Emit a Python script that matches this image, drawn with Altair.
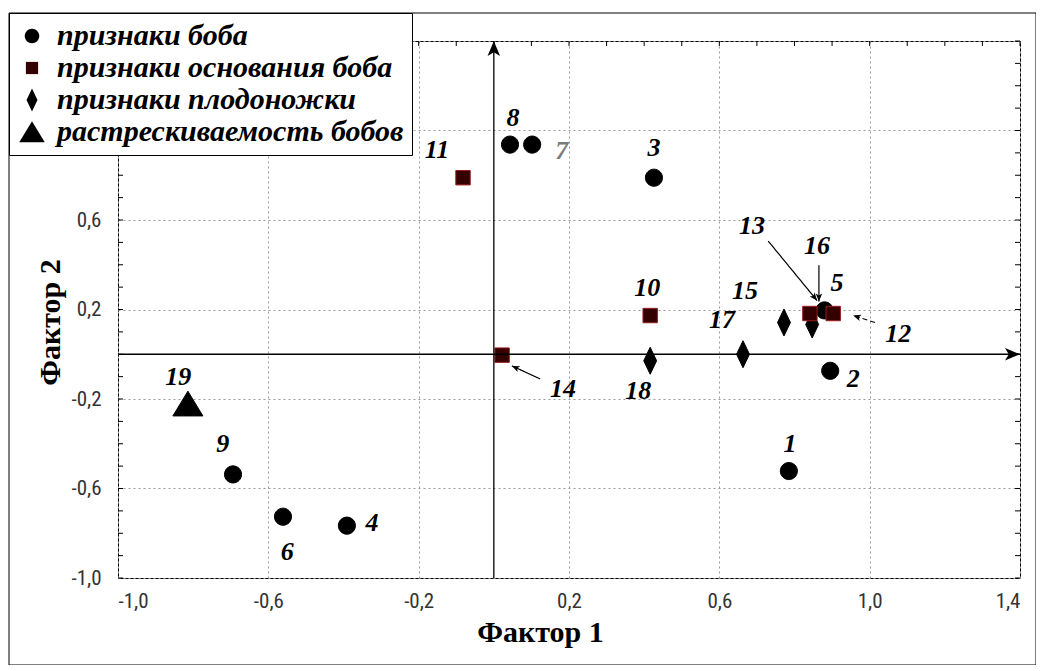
import math
import altair as alt
import pandas as pd

# ---------------- data ----------------
GROUPS = ["признаки боба", "признаки основания боба", "признаки плодоножки", "растрескиваемость бобов"]

pt_id = [1, 2, 3, 4, 5, 6, 7, 8, 9, 10, 11, 12, 13, 14, 15, 16, 17, 18, 19]
pt_x = [0.785, 0.895, 0.426, -0.391, 0.880, -0.561, 0.102, 0.043, -0.694,
        0.416, -0.082, 0.903, 0.841, 0.022,
        0.772, 0.847, 0.663, 0.416,
        -0.814]
pt_y = [-0.522, -0.074, 0.789, -0.766, 0.196, -0.726, 0.937, 0.937, -0.537,
        0.173, 0.789, 0.182, 0.182, -0.004,
        0.142, 0.133, 0.000, -0.029,
        -0.222]
pt_group = [0] * 9 + [1] * 5 + [2] * 4 + [3]

lab_x = [0.788, 0.956, 0.426, -0.324, 0.913, -0.550, 0.181, 0.051, -0.721,
         0.408, -0.151, 1.076, 0.687, 0.184,
         0.668, 0.860, 0.607, 0.384,
         -0.840]
lab_y = [-0.402, -0.110, 0.924, -0.753, 0.317, -0.883, 0.910, 1.058, -0.402,
         0.294, 0.915, 0.092, 0.573, -0.155,
         0.281, 0.483, 0.151, -0.164,
         -0.101]
lab_color = ["black"] * 19
lab_color[6] = "#7a7a7a"

# pointer arrows (label -> point)
arr_x1 = [0.730, 0.865, 1.014, 0.123]
arr_y1 = [0.506, 0.398, 0.142, -0.110]
arr_x2 = [0.860, 0.865, 0.956, 0.048]
arr_y2 = [0.240, 0.236, 0.173, -0.052]
arr_style = ["solid", "solid", "dashed", "solid"]

grid_vals = [-1.0, -0.6, -0.2, 0.2, 0.6, 1.0, 1.4]
minor_ticks = [-1.0, -0.9, -0.8, -0.7, -0.6, -0.5, -0.4, -0.3, -0.2, -0.1, 0.0, 0.1, 0.2,
               0.3, 0.4, 0.5, 0.6, 0.7, 0.8, 0.9, 1.0, 1.1, 1.2, 1.3, 1.4]

XD = [-1.0, 1.4]
YD = [-1.0, 1.4]

# ---------------- layout ----------------
W, H = 902, 537
xs = alt.Scale(domain=XD, nice=False, zero=False)
ys = alt.Scale(domain=YD, nice=False, zero=False)

draw_rank = {0: 0, 2: 1, 1: 2, 3: 3}
pts = pd.DataFrame({
    "id": pt_id, "x": pt_x, "y": pt_y,
    "group": [GROUPS[g] for g in pt_group],
    "rank": [draw_rank[g] for g in pt_group],
})
pts = pts.sort_values(["rank", "id"], kind="stable").reset_index(drop=True)

labels = pd.DataFrame({"id": [str(i) for i in pt_id], "lx": lab_x, "ly": lab_y, "lc": lab_color})

ppx = W / (XD[1] - XD[0])
ppy = H / (YD[1] - YD[0])


def head_angle(x1, y1, x2, y2):
    dx = (x2 - x1) * ppx
    dys = -(y2 - y1) * ppy
    return math.degrees(math.atan2(dx, -dys)) % 360


arrows = pd.DataFrame({"x": arr_x1, "y": arr_y1, "x2": arr_x2, "y2": arr_y2, "style": arr_style})
arrow_heads = pd.DataFrame({
    "x": arr_x2, "y": arr_y2,
    "angle": [head_angle(a, b, c, d) for a, b, c, d in zip(arr_x1, arr_y1, arr_x2, arr_y2)],
})

axes_lines = pd.DataFrame({"x": [0.0, XD[0]], "y": [YD[0], 0.0], "x2": [0.0, XD[1]], "y2": [YD[1], 0.0]})
axes_heads = pd.DataFrame({"x": [0.0, XD[1]], "y": [YD[1], 0.0], "angle": [0.0, 90.0]})
ticks_df = pd.DataFrame({"t": minor_ticks})

# symbol shapes (unit paths, drawn at a common symbol size)
ARROW_PATH = "M0,0L0.5,1.2L0,0.9L-0.5,1.2Z"
CIRCLE_PATH = "M0.57,0A0.57,0.57 0 1,1 -0.57,0A0.57,0.57 0 1,1 0.57,0Z"
SQUARE_PATH = "M-0.48,-0.48H0.48V0.48H-0.48Z"
DIAMOND_PATH = "M0,-0.9L0.43,0L0,0.9L-0.43,0Z"
TRIANGLE_PATH = "M0,-0.85L1,0.8L-1,0.8Z"

lab_expr = "replace(replace(format(datum.value, '.1f'), '.', ','), '\u2212', '-')"

x_axis = alt.Axis(values=grid_vals, labelExpr=lab_expr, title="Фактор 1", grid=True,
                  ticks=False, domain=False, labelPadding=12, titleX=422, titleY=54,
                  titleAlign="center", titleBaseline="middle")
y_axis = alt.Axis(values=grid_vals,
                  labelExpr="datum.value > 0.7 ? '' : " + lab_expr,
                  title="Фактор 2", grid=True, ticks=False, domain=False, labelPadding=17,
                  titleX=-68, titleY=281, titleAlign="center", titleBaseline="middle", titleAngle=270)

legend = alt.Legend(title=None, orient="none", legendX=-109, legendY=-28,
                    fillColor="white", strokeColor="black", padding=8,
                    labelFont="Liberation Serif", labelFontSize=30, labelFontStyle="italic",
                    labelFontWeight="bold", labelColor="black", labelLimit=600,
                    labelOffset=10, rowPadding=2, symbolOpacity=1, symbolStrokeWidth=0,
                    symbolSize=650)

frame = alt.Chart(alt.Data(values=[{"a": 1}])).mark_rect(
    fillOpacity=0, stroke="black", strokeWidth=1
).encode(x=alt.value(-109), x2=alt.value(918), y=alt.value(-28), y2=alt.value(624))

tick_top = alt.Chart(ticks_df).mark_rule(color="black", strokeWidth=1).encode(
    x=alt.X("t:Q", scale=xs, axis=x_axis), y=alt.value(0), y2=alt.value(5))
tick_right = alt.Chart(ticks_df).mark_rule(color="black", strokeWidth=1).encode(
    y=alt.Y("t:Q", scale=ys, axis=y_axis), x=alt.value(W - 5), x2=alt.value(W))
tick_left = alt.Chart(ticks_df).mark_rule(color="black", strokeWidth=1).encode(
    y=alt.Y("t:Q", scale=ys, axis=y_axis), x=alt.value(0), x2=alt.value(5))

ax_lines = alt.Chart(axes_lines).mark_rule(color="black", strokeWidth=1.3).encode(
    x=alt.X("x:Q", scale=xs, axis=x_axis), y=alt.Y("y:Q", scale=ys, axis=y_axis), x2="x2:Q", y2="y2:Q")
ax_heads = alt.Chart(axes_heads).mark_point(shape=ARROW_PATH, filled=True, color="black",
                                            size=625, opacity=1).encode(
    x=alt.X("x:Q", scale=xs, axis=x_axis), y=alt.Y("y:Q", scale=ys, axis=y_axis),
    angle=alt.Angle("angle:Q", scale=None))

ptr_lines = alt.Chart(arrows).mark_rule(color="black", strokeWidth=1.2).encode(
    x=alt.X("x:Q", scale=xs, axis=x_axis), y=alt.Y("y:Q", scale=ys, axis=y_axis), x2="x2:Q", y2="y2:Q",
    strokeDash=alt.StrokeDash("style:N", scale=alt.Scale(domain=["solid", "dashed"], range=[[1, 0], [5, 3]]),
                              legend=None))
ptr_heads = alt.Chart(arrow_heads).mark_point(shape=ARROW_PATH, filled=True, color="black",
                                              size=170, opacity=1).encode(
    x=alt.X("x:Q", scale=xs, axis=x_axis), y=alt.Y("y:Q", scale=ys, axis=y_axis),
    angle=alt.Angle("angle:Q", scale=None))

points = alt.Chart(pts).mark_point(filled=True, opacity=1, strokeWidth=1, size=900).encode(
    x=alt.X("x:Q", scale=xs, axis=x_axis),
    y=alt.Y("y:Q", scale=ys, axis=y_axis),
    shape=alt.Shape("group:N",
                    scale=alt.Scale(domain=GROUPS, range=[CIRCLE_PATH, SQUARE_PATH, DIAMOND_PATH, TRIANGLE_PATH]),
                    legend=legend),
    color=alt.Color("group:N", scale=alt.Scale(domain=GROUPS, range=["black", "#350000", "black", "black"]),
                    legend=legend),
    stroke=alt.Stroke("group:N", scale=alt.Scale(domain=GROUPS, range=["black", "#9a1a1a", "black", "black"]),
                      legend=None),
)

texts = alt.Chart(labels).mark_text(font="Liberation Serif", fontSize=26, fontStyle="italic",
                                    fontWeight="bold", align="center", baseline="middle").encode(
    x=alt.X("lx:Q", scale=xs, axis=x_axis), y=alt.Y("ly:Q", scale=ys, axis=y_axis), text="id:N",
    color=alt.Color("lc:N", scale=None))

chart = alt.layer(points, frame, tick_top, tick_right, tick_left, ax_lines, ax_heads,
                  ptr_lines, ptr_heads, texts).properties(
    width=W, height=H,
    padding={"left": 110, "top": 33, "right": 16, "bottom": 87},
    autosize=alt.AutoSizeParams(type="none"),
    background="white",
).configure_view(stroke="black", strokeWidth=1).configure_axis(
    gridColor="#9a9a9a", gridDash=[2, 3], gridWidth=1,
    labelFont="Liberation Sans Narrow, Roboto Condensed, DejaVu Sans Condensed, sans-serif",
    labelFontSize=21, labelColor="#333333",
    titleFont="Liberation Serif", titleFontSize=30, titleFontWeight="bold", titleColor="black",
)

chart.save("out.html", embed_options={"renderer": "svg", "actions": False})
